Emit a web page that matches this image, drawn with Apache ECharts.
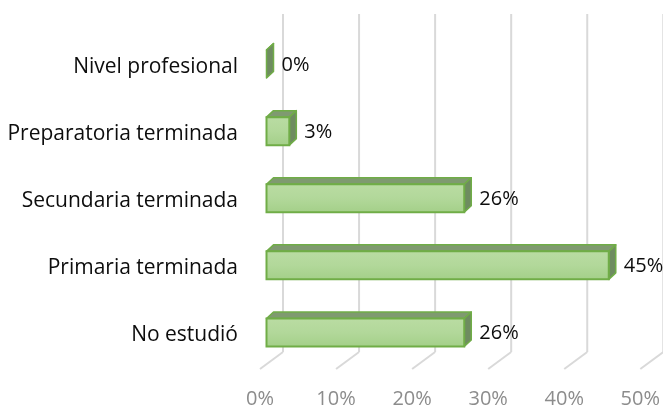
<!DOCTYPE html>
<html><head><meta charset="utf-8">
<script src="https://cdn.jsdelivr.net/npm/echarts@6/dist/echarts.min.js"></script>
<style>html,body{margin:0;padding:0;background:#fff}#c{width:663px;height:411px}</style>
</head><body><div id="c"></div>
<script>
const categories = ['No estudió', 'Primaria terminada', 'Secundaria terminada', 'Preparatoria terminada', 'Nivel profesional'];
const values = [0.26, 0.45, 0.26, 0.03, 0.00];
const tickValues = [0, 0.1, 0.2, 0.3, 0.4, 0.5];

const FONT = '"Open Sans", sans-serif';
const FS = 20;
const DX = 7, DY = -6.5;            // bar depth
const BAR_SHIFT_X = 6.5, BAR_SHIFT_Y = -3, BAR_H = 28;
const WALL_DX = 23, WALL_DY = -17; // floor depth
const WALL_TOP = 14;

const chart = echarts.init(document.getElementById('c'), null, {renderer: 'canvas'});

function renderGrid(params, api) {
  const v = api.value(0);
  const cs = params.coordSys;
  const p = api.coord([v, 0]);
  const fx = p[0], fy = cs.y + cs.height;
  const bx = fx + WALL_DX, by = fy + WALL_DY;
  const st = {stroke: '#d9d9d9', lineWidth: 2, fill: null};
  return {type: 'group', children: [
    {type: 'line', shape: {x1: bx, y1: by, x2: bx, y2: WALL_TOP}, style: st},
    {type: 'line', shape: {x1: fx, y1: fy, x2: bx, y2: by}, style: st}
  ]};
}

function renderBar(params, api) {
  const v = api.value(0), c = api.value(1);
  const p0 = api.coord([0, c]), p1 = api.coord([v, c]);
  const x0 = p0[0] + BAR_SHIFT_X, x1 = p1[0] + BAR_SHIFT_X;
  const yc = p0[1] + BAR_SHIFT_Y;
  const y0 = yc - BAR_H / 2, y1 = yc + BAR_H / 2;
  const border = '#70ad47';
  const children = [];
  children.push({type: 'polygon', shape: {points: [[x0, y0], [x0 + DX, y0 + DY], [x1 + DX, y0 + DY], [x1, y0]]},
    style: {fill: '#7f9a70', stroke: border, lineWidth: 1.5, lineJoin: 'round'}});
  children.push({type: 'polygon', shape: {points: [[x1, y0], [x1 + DX, y0 + DY], [x1 + DX, y1 + DY], [x1, y1]]},
    style: {fill: '#6e8c60', stroke: border, lineWidth: 1.5, lineJoin: 'round'}});
  if (x1 - x0 > 0.5) {
    children.push({type: 'rect', shape: {x: x0, y: y0, width: x1 - x0, height: BAR_H},
      style: {fill: new echarts.graphic.LinearGradient(0, 0, 0, 1, [
        {offset: 0, color: '#badca3'}, {offset: 0.5, color: '#b2d89a'}, {offset: 1, color: '#a3cf88'}]),
        stroke: border, lineWidth: 2}});
  }
  children.push({type: 'text', style: {text: Math.round(v * 100) + '%', x: x1 + DX + 8, y: yc + 1,
    fill: '#0d0d0d', font: FS + 'px ' + FONT, align: 'left', verticalAlign: 'middle'}});
  return {type: 'group', children};
}

chart.setOption({
  animation: false,
  grid: {left: 260, right: 19.5, top: 33.5, bottom: 42},
  xAxis: {
    type: 'value', min: 0, max: 0.5, interval: 0.1,
    axisLine: {show: false}, axisTick: {show: false}, splitLine: {show: false},
    axisLabel: {formatter: v => Math.round(v * 100) + '%', color: '#8c8c8c', fontSize: FS, fontFamily: FONT, margin: 20}
  },
  yAxis: {
    type: 'category', data: categories,
    axisLine: {show: false}, axisTick: {show: false}, splitLine: {show: false},
    axisLabel: {color: '#0d0d0d', fontSize: 21, fontFamily: FONT, margin: 22}
  },
  series: [
    {type: 'custom', renderItem: renderGrid, data: tickValues.map(v => [v]), encode: {x: 0}, z: 1, silent: true},
    {type: 'custom', renderItem: renderBar, data: values.map((v, i) => [v, i]), encode: {x: 0, y: 1}, z: 2}
  ]
});
</script>
</body></html>
